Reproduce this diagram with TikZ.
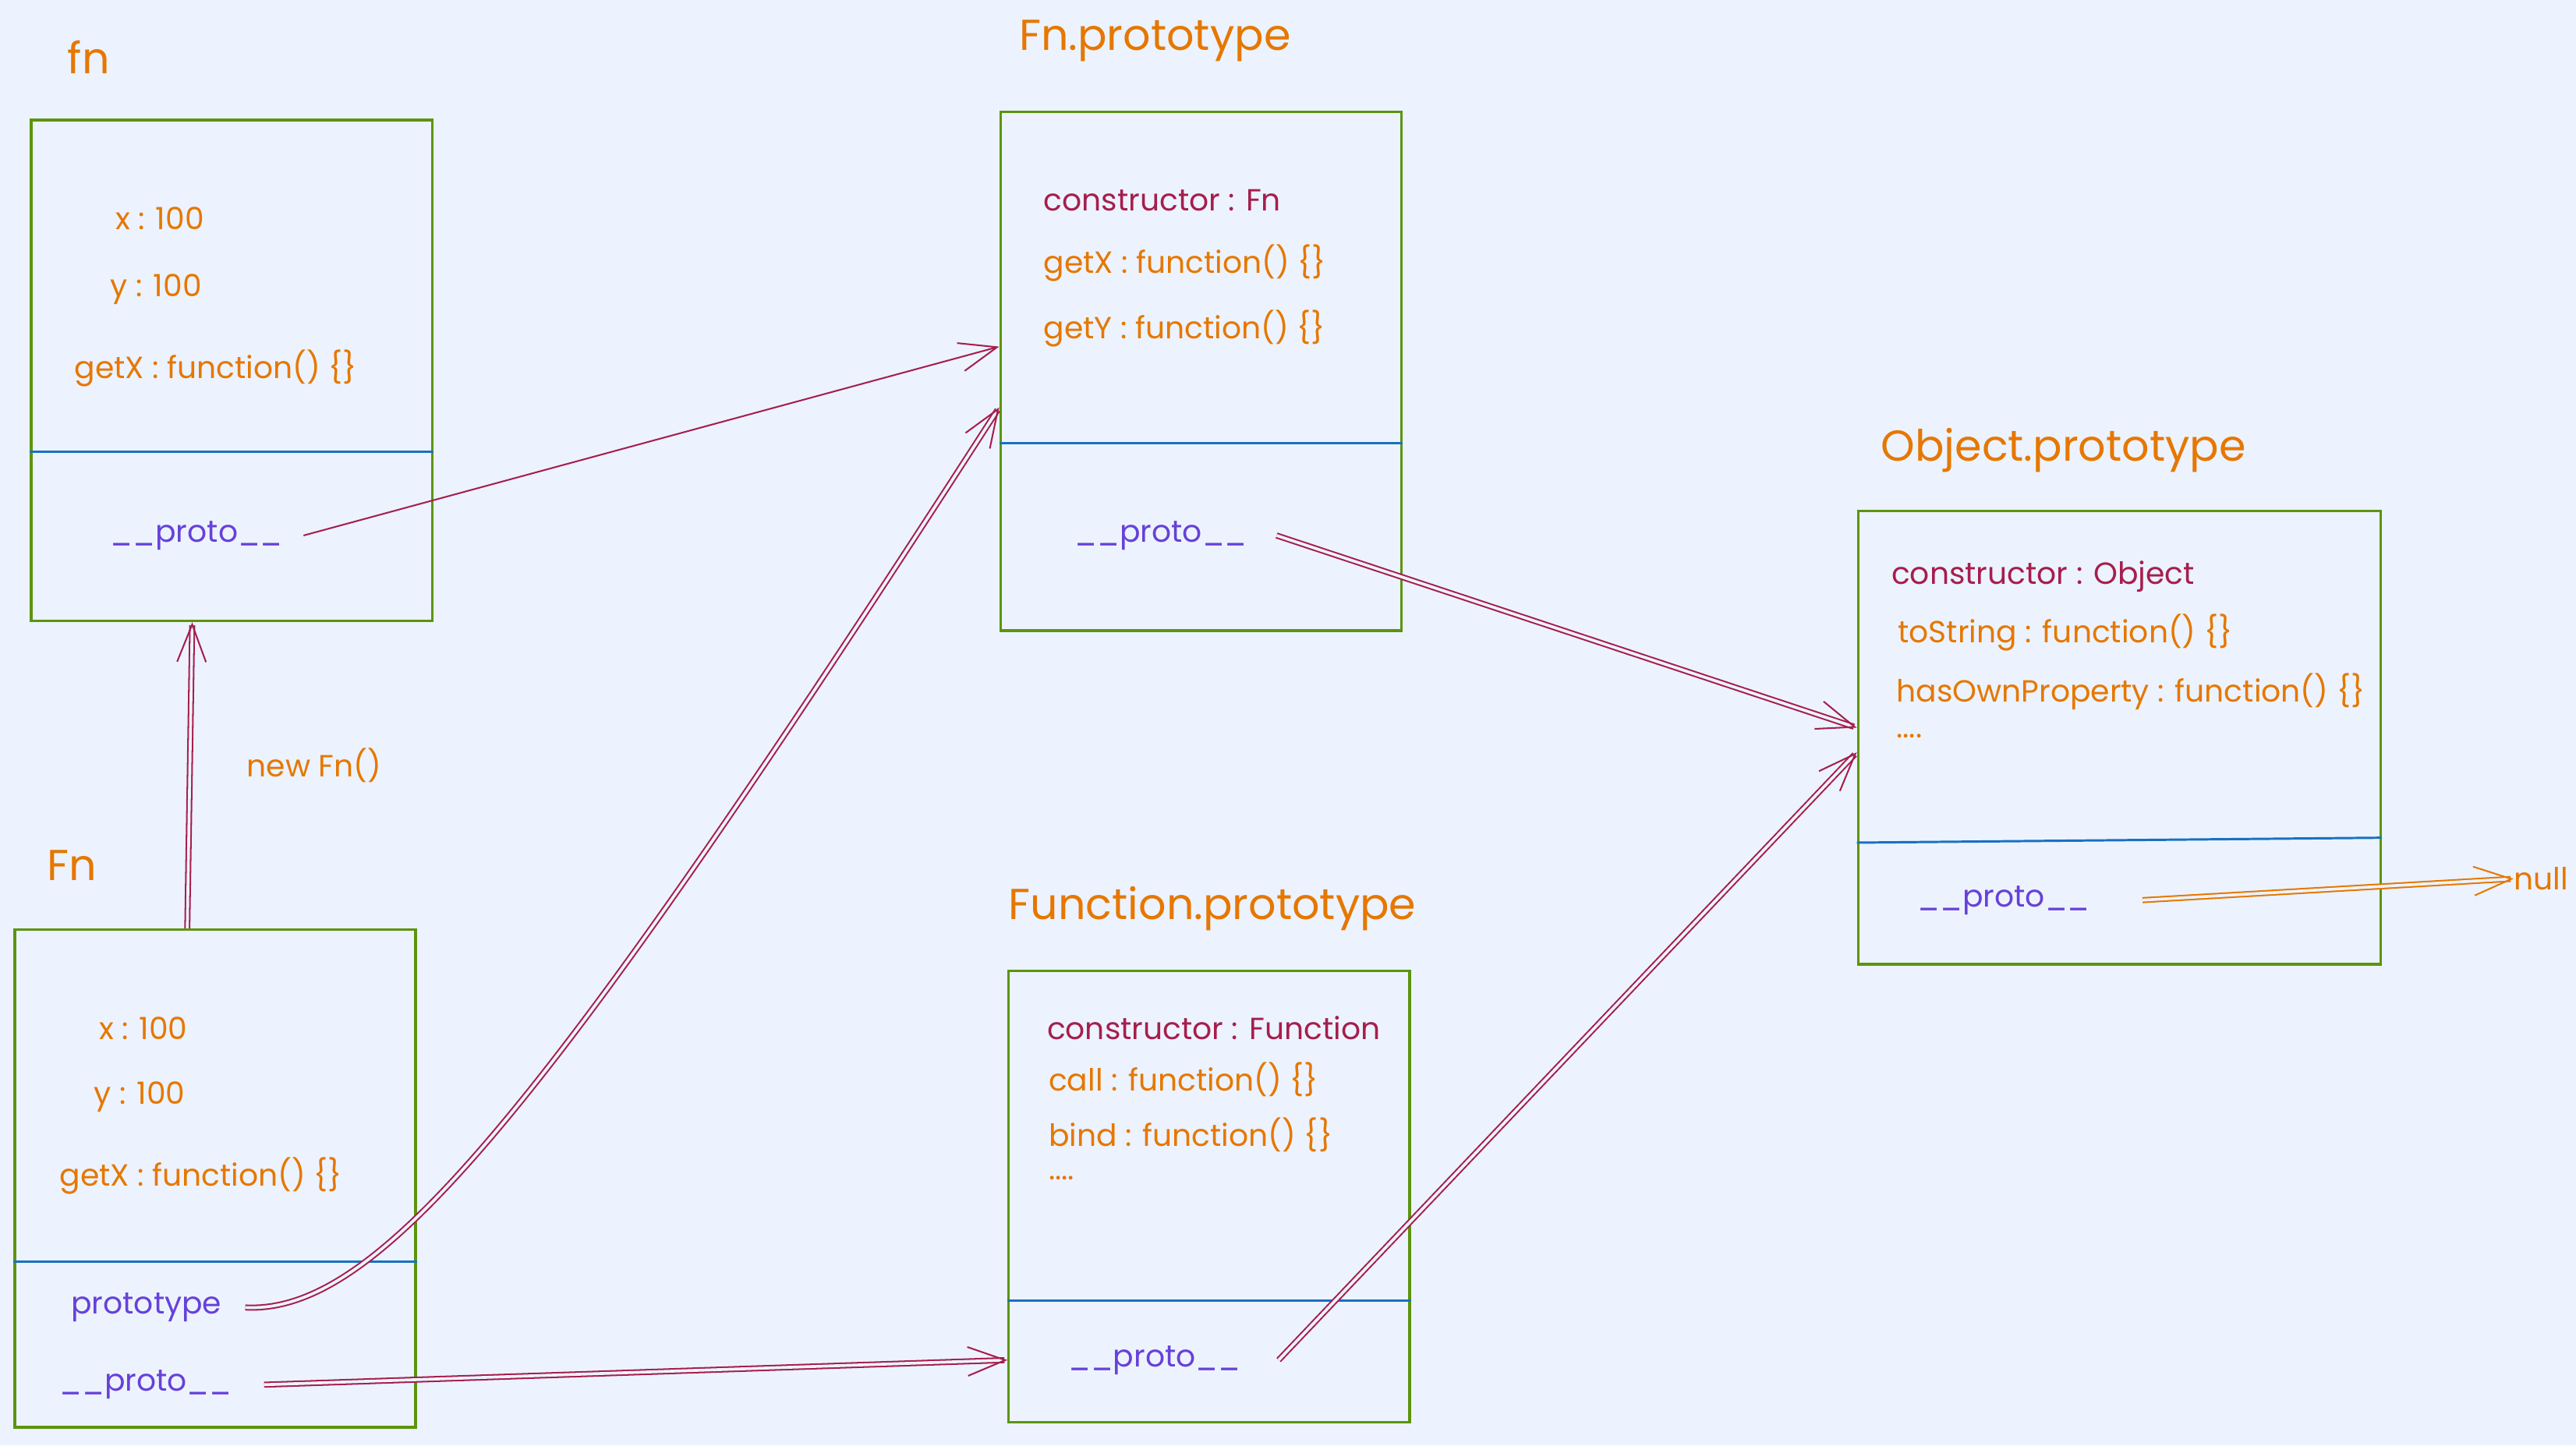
\documentclass[tikz,border=0pt]{standalone}
\usepackage{fontspec}
\setmainfont{Poppins}
\usetikzlibrary{fit,arrows.meta}

\definecolor{paper}{HTML}{ECF3FE}
\definecolor{boxgreen}{HTML}{5C940D}
\definecolor{rulerblue}{HTML}{1971C2}
\definecolor{keyorange}{HTML}{E67700}
\definecolor{protoviolet}{HTML}{6741D9}
\definecolor{linkred}{HTML}{A61E4D}

\tikzset{
	objbox/.style={draw=boxgreen, line width=0.9pt, inner sep=0pt},
	ruler/.style={draw=rulerblue, line width=0.8pt},
	field/.style={anchor=west, inner sep=0pt, text=keyorange, font=\fontsize{10.6}{13}\selectfont},
	ctor/.style={field, text=linkred},
	protofield/.style={field, text=protoviolet},
	heading/.style={inner sep=0pt, text=keyorange, font=\fontsize{15}{18}\selectfont},
	link/.style={draw=linkred, line width=0.55pt, double=paper, double distance=1pt,
		-{Straight Barb[length=13pt,width=10pt]}}
}

\begin{document}
\begin{tikzpicture}[x=0.02cm,y=-0.02cm]
	\fill[paper] (0,0) rectangle (1568,880);
	\useasboundingbox (0,0) rectangle (1568,880);

	% instance fn
	\node[heading] (fntitle) at (54,35) {fn};
	\node[objbox, fit={(19,73) (263,378)}] (fnobj) {};
	\draw[ruler] (fnobj.west |- 0,275) -- (fnobj.east |- 0,275);
	\node[field] (fnx) at (70,133) {x : 100};
	\node[field] (fny) at (67,176) {y : 100};
	\node[field] (fngetx) at (45,224) {getX : function() \{\}};
	\node[protofield] (fnproto) at (67,326) {\_\_proto\_\_};

	% constructor Fn
	\node[heading] (Fntitle) at (44,527) {Fn};
	\node[objbox, fit={(9,566) (253,869)}] (Fnobj) {};
	\draw[ruler] (Fnobj.west |- 0,768) -- (Fnobj.east |- 0,768);
	\node[field] (Fnx) at (60,626) {x : 100};
	\node[field] (Fny) at (57,668) {y : 100};
	\node[field] (Fngetx) at (36,716) {getX : function() \{\}};
	\node[protofield] (Fnprototype) at (43,796) {prototype};
	\node[protofield] (Fnproto) at (36,843) {\_\_proto\_\_};
	\node[field] (newfn) at (150,466) {new Fn()};

	% Fn.prototype
	\node[heading] (fnptitle) at (703,25) {Fn.prototype};
	\node[objbox, fit={(609,68) (853,384)}] (fnpobj) {};
	\draw[ruler] (fnpobj.west |- 0,270) -- (fnpobj.east |- 0,270);
	\node[ctor] (fnpctor) at (635,122) {constructor : Fn};
	\node[field] (fnpgetx) at (635,160) {getX : function() \{\}};
	\node[field] (fnpgety) at (635,200) {getY : function() \{\}};
	\node[protofield] (fnpproto) at (654,326) {\_\_proto\_\_};

	% Function.prototype
	\node[heading] (funptitle) at (738,553) {Function.prototype};
	\node[objbox, fit={(614,591) (858,866)}] (funpobj) {};
	\draw[ruler] (funpobj.west |- 0,792) -- (funpobj.east |- 0,792);
	\node[ctor] (funpctor) at (637,626) {constructor : Function};
	\node[field] (funpcall) at (638,657) {call : function() \{\}};
	\node[field] (funpbind) at (638,691) {bind : function() \{\}};
	\node[field] (funpdots) at (638,717) {....};
	\node[protofield] (funpproto) at (650,828) {\_\_proto\_\_};

	% Object.prototype
	\node[heading] (objptitle) at (1256,274) {Object.prototype};
	\node[objbox, fit={(1131,311) (1449,587)}] (objpobj) {};
	\draw[ruler] (objpobj.west |- 0,513) -- (objpobj.east |- 0,510);
	\node[ctor] (objpctor) at (1151,351) {constructor : Object};
	\node[field] (objptostr) at (1155,385) {toString : function() \{\}};
	\node[field] (objphasown) at (1154,421) {hasOwnProperty : function() \{\}};
	\node[field] (objpdots) at (1154,448) {....};
	\node[protofield] (objpproto) at (1167,548) {\_\_proto\_\_};
	\node[field] (nullval) at (1530,535) {null};

	% links
	\draw[draw=linkred, line width=0.55pt, -{Straight Barb[length=13pt,width=10pt]}]
		([xshift=7pt]fnproto.east) -- (fnpobj.west |- 0,211);
	\draw[link] (Fnobj.north -| 114,0) -- (fnobj.south -| 117,0);
	\draw[link] ([xshift=8pt]Fnprototype.east) .. controls (230,800) and (330,680) .. (fnpobj.west |- 0,248);
	\draw[link] ([xshift=11pt]Fnproto.east) -- (funpobj.west |- 0,828);
	\draw[link] ([xshift=10pt]fnpproto.east) -- (objpobj.west |- 0,443);
	\draw[link] ([xshift=13pt]funpproto.east) -- (objpobj.west |- 0,458);
	\draw[link, draw=keyorange] ([xshift=18pt]objpproto.east) -- (nullval.west);
\end{tikzpicture}
\end{document}
